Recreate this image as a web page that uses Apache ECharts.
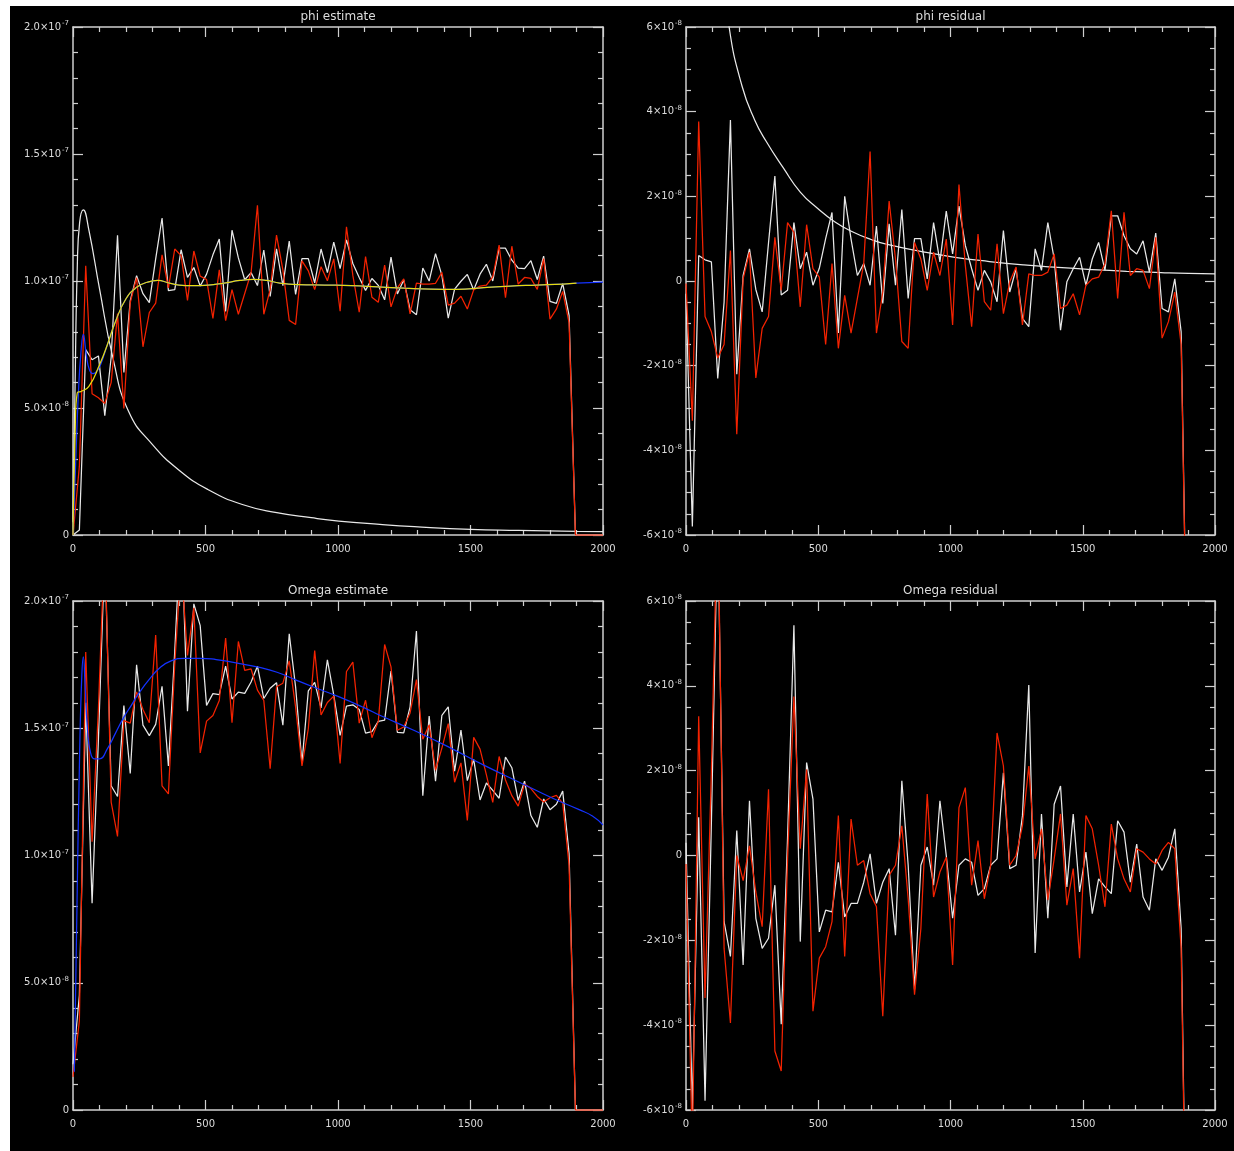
<!DOCTYPE html>
<html>
<head>
<meta charset="utf-8">
<script src="https://cdn.jsdelivr.net/npm/echarts@6/dist/echarts.min.js"></script>
<style>
  html, body { margin: 0; padding: 0; background: #ffffff; }
  #chart { position: absolute; left: 10px; top: 6px; width: 1224px; height: 1145px; background: #000000; }
</style>
</head>
<body>
<div id="chart"></div>
<script>
// Sample positions of the filter outputs (time step)
const steps = [0,24,48,72,96,120,144,168,192,216,240,264,288,312,336,360,384,408,432,456,480,504,528,552,576,600,624,648,672,696,720,744,768,792,816,840,864,888,912,936,960,984,1008,1032,1056,1080,1104,1128,1152,1176,1200,1224,1248,1272,1296,1320,1344,1368,1392,1416,1440,1464,1488,1512,1536,1560,1584,1608,1632,1656,1680,1704,1728,1752,1776,1800,1824,1848,1872,1896,2000];

// All values below are in units of 1e-8
const phiEstRed = [0,2.7,10.6,5.56,5.4,5.18,6.0,8.72,4.98,9.15,10.13,7.41,8.76,9.13,11.03,9.73,11.26,11.0,9.24,11.18,10.19,10.06,8.53,10.44,8.44,9.66,8.69,9.51,10.33,12.98,8.69,9.66,11.81,10.44,8.45,8.29,10.79,10.4,9.66,10.56,10.01,10.87,8.81,12.13,10.22,8.77,10.96,9.36,9.16,10.63,8.98,9.73,10.08,8.71,9.92,9.88,9.88,9.91,10.34,9.05,9.13,9.4,8.9,9.65,9.8,9.84,10.16,11.41,9.34,11.37,9.88,10.14,10.1,9.67,10.88,8.5,8.89,9.59,8.35,0,0];
const phiEstWhite = [0,0.2,7.3,6.9,7.05,4.7,7.0,11.8,6.4,9.23,10.21,9.5,9.15,10.87,12.48,9.62,9.66,11.23,10.14,10.53,9.8,10.27,11.03,11.65,8.8,12.0,10.91,10.05,10.33,9.82,11.22,9.39,11.27,9.82,11.57,9.47,10.88,10.88,9.93,11.26,10.33,11.53,10.49,11.62,10.69,10.14,9.63,10.1,9.83,9.26,10.94,9.49,10.04,8.87,8.67,10.51,10.0,11.08,10.22,8.54,9.68,9.99,10.26,9.65,10.27,10.66,10.0,11.29,11.29,10.82,10.51,10.49,10.8,10.06,10.98,9.2,9.12,9.9,8.65,0,0];
const phiResRed = [-0.06,-3.3,3.77,-0.84,-1.2,-1.82,-1.5,0.72,-3.62,0.05,0.68,-2.29,-1.12,-0.84,1.03,-0.22,1.38,1.15,-0.61,1.33,0.29,0.09,-1.5,0.41,-1.59,-0.34,-1.23,-0.41,0.41,3.06,-1.23,-0.26,1.89,0.52,-1.43,-1.59,0.91,0.52,-0.22,0.68,0.13,0.99,-1.04,2.28,0.37,-1.08,1.11,-0.49,-0.69,0.88,-0.77,-0.02,0.33,-1.04,0.17,0.13,0.13,0.21,0.64,-0.65,-0.57,-0.3,-0.8,-0.1,0.05,0.09,0.41,1.66,-0.41,1.62,0.13,0.29,0.25,-0.18,1.03,-1.35,-0.96,-0.26,-1.5,-9.9,null];
const phiResWhite = [-0.3,-5.8,0.6,0.5,0.45,-2.3,-0.5,3.8,-2.2,0.13,0.76,-0.2,-0.73,0.9,2.48,-0.33,-0.22,1.38,0.29,0.68,-0.1,0.3,1.0,1.62,-1.23,2.0,0.99,0.13,0.41,-0.1,1.3,-0.53,1.35,-0.1,1.69,-0.41,1.0,1.0,0.05,1.38,0.45,1.65,0.64,1.77,0.84,0.29,-0.22,0.25,-0.02,-0.49,1.19,-0.26,0.29,-0.88,-1.08,0.76,0.25,1.38,0.52,-1.16,-0.02,0.29,0.56,-0.1,0.52,0.91,0.25,1.54,1.54,1.07,0.76,0.64,0.95,0.21,1.13,-0.65,-0.73,0.05,-1.2,-9.9,null];
const omegaEstRed = [1.3,3.5,18.0,10.54,15.8,22.5,12.1,10.75,15.3,15.2,16.43,15.74,15.22,18.66,12.74,12.42,17.52,21.45,17.86,19.73,14.03,15.28,15.5,16.09,18.54,15.22,18.41,17.27,17.33,16.5,16.09,13.41,16.63,16.77,17.65,15.83,13.52,14.98,18.05,15.52,16.01,16.26,13.62,17.23,17.6,15.2,16.1,14.63,15.27,18.29,17.41,14.92,15.05,15.6,16.91,14.57,15.13,13.35,14.22,15.18,12.88,13.64,11.38,14.64,14.18,13.17,12.09,13.89,12.97,12.35,11.94,12.81,12.63,12.32,12.1,12.27,12.36,12.06,9.61,0,0];
const omegaEstWhite = [1.8,4.5,16.0,8.12,14.58,22.0,12.74,12.32,15.89,13.22,17.49,15.12,14.71,15.15,16.65,13.52,18.03,23.1,15.67,19.89,19.03,15.9,16.36,16.32,17.44,16.15,16.42,16.37,16.82,17.44,16.17,16.57,16.79,15.12,18.71,16.62,13.64,16.47,16.8,15.8,17.69,16.3,14.72,15.87,15.92,15.74,14.81,14.87,15.27,15.32,17.25,14.84,14.82,15.84,18.82,12.35,15.48,12.92,15.51,15.84,13.31,14.93,12.94,13.78,12.18,12.85,12.56,12.25,13.87,13.45,12.17,12.92,11.57,11.11,12.22,11.8,12.01,12.53,10.08,0,0];
const omegaResRed = [-0.2,-7.0,3.28,-3.36,2.0,8.5,-2.19,-3.95,0.0,-0.59,0.23,-0.86,-1.68,1.56,-4.61,-5.08,-0.08,3.75,0.16,2.03,-3.67,-2.42,-2.15,-1.56,0.94,-2.38,0.86,-0.23,-0.12,-0.9,-1.21,-3.79,-0.47,-0.23,0.7,-1.02,-3.28,-1.72,1.45,-0.98,-0.39,-0.04,-2.58,1.13,1.6,-0.7,0.35,-1.02,-0.23,2.89,2.11,-0.23,0.0,0.7,2.11,-0.08,0.63,-1.05,-0.08,0.98,-1.17,-0.31,-2.42,0.94,0.63,-0.23,-1.21,0.74,-0.08,-0.55,-0.86,0.16,0.08,-0.08,-0.2,0.12,0.31,0.16,-2.19,-11.65,null];
const omegaResWhite = [0.3,-6.0,0.9,-5.78,0.78,8.0,-1.56,-2.38,0.59,-2.58,1.29,-1.48,-2.19,-1.95,-0.7,-3.98,0.43,5.43,-2.03,2.19,1.33,-1.8,-1.29,-1.33,-0.16,-1.45,-1.13,-1.13,-0.63,0.04,-1.13,-0.63,-0.31,-1.88,1.76,-0.23,-3.16,-0.23,0.2,-0.7,1.29,0,-1.48,-0.23,-0.08,-0.16,-0.94,-0.78,-0.23,-0.08,1.95,-0.31,-0.23,0.94,4.02,-2.3,0.98,-1.48,1.21,1.64,-0.74,0.98,-0.86,0.08,-1.37,-0.55,-0.74,-0.9,0.82,0.55,-0.63,0.27,-0.98,-1.29,-0.08,-0.35,-0.04,0.63,-1.72,-11.65,null];

// Smooth reference curves
const phiTrueX = [0,10,20,30,39,50,62,75,90,104,130,160,200,240,280,320,360,400,450,510,570,630,680,730,780,850,950,1050,1150,1250,1350,1450,1550,1650,1750,1850,1900,2000];
const phiTrueY = [0,2.8,5.5,7.2,7.9,7.1,6.5,6.35,6.45,6.7,7.5,8.4,9.3,9.75,9.95,10.02,9.93,9.84,9.82,9.84,9.92,10.02,10.06,10.02,9.92,9.86,9.84,9.82,9.77,9.72,9.68,9.67,9.74,9.8,9.84,9.88,9.92,9.96];
const phiSmoothX = [0,8,16,30,60,100,130,160,200,240,280,320,360,400,450,510,570,630,680,730,780,850,950,1050,1150,1250,1350,1450,1550,1650,1750,1850,1900];
const phiSmoothY = [0,4.0,5.6,5.65,5.85,6.7,7.5,8.4,9.3,9.75,9.95,10.02,9.93,9.84,9.82,9.84,9.92,10.02,10.06,10.02,9.92,9.86,9.84,9.82,9.77,9.72,9.68,9.67,9.74,9.8,9.84,9.88,9.92];
const phiBoundX = [0,8,16,25,39,60,100,150,210,300,405,509,639,769,899,1003,1158,1288,1500,1680,1900,2000];
const phiBoundY = [0.5,6.0,10.5,12.3,12.8,12.0,9.7,7.0,4.86,3.56,2.51,1.79,1.2,0.88,0.68,0.55,0.42,0.33,0.22,0.18,0.14,0.13];
const resBoundX = [130,163,212,260,303,368,432,497,562,627,700,757,887,1017,1147,1277,1406,1536,1666,1796,1900,2000];
const resBoundY = [8.0,6.0,4.6,3.8,3.3,2.67,2.1,1.72,1.4,1.17,0.98,0.87,0.70,0.56,0.46,0.38,0.32,0.27,0.23,0.2,0.18,0.17];
const omegaTrueX = [5,15,25,33,39,46,55,65,80,100,130,160,190,220,250,290,330,370,420,480,540,600,650,700,770,840,900,1000,1100,1160,1290,1420,1550,1680,1810,1910,1960,2000];
const omegaTrueY = [1.5,8,14,17,17.8,16.6,14.9,14.1,13.8,13.8,14.2,14.8,15.4,15.9,16.4,16.95,17.4,17.65,17.75,17.75,17.7,17.6,17.5,17.4,17.2,16.9,16.65,16.25,15.8,15.5,14.9,14.25,13.55,12.9,12.25,11.8,11.55,11.2];

// Tick labels ("mantissa|exponent")
const estTicks = [0, 5, 10, 15, 20];
const estTickLabels = ['0', '5.0×10|-8', '1.0×10|-7', '1.5×10|-7', '2.0×10|-7'];
const resTicks = [-6, -4, -2, 0, 2, 4, 6];
const resTickLabels = ['-6×10|-8', '-4×10|-8', '-2×10|-8', '0', '2×10|-8', '4×10|-8', '6×10|-8'];
const xTicks = [0, 500, 1000, 1500, 2000];
const xTickLabels = ['0', '500', '1000', '1500', '2000'];

const titles = ['phi estimate', 'phi residual', 'Omega estimate', 'Omega residual'];

const AXIS = '#cfcfcf';
const TEXT = '#dcdcdc';
const FONT = '"DejaVu Sans", Verdana, sans-serif';
const RED = '#f42200';
const WHITE = '#e8e8e8';
const BLUE = '#1432ff';
const YELLOW = '#e6dc10';

const grids = [
  { left: 63, top: 21, width: 530, height: 508 },
  { left: 676, top: 21, width: 529, height: 508 },
  { left: 63, top: 595, width: 530, height: 509 },
  { left: 676, top: 595, width: 529, height: 509 }
];

function pairs(xs, ys) { return xs.map((x, i) => [x, ys[i]]); }

function tickStyle() {
  return {
    axisTick: { show: true, inside: true, length: 10, lineStyle: { color: AXIS, width: 1.2 } },
    minorTick: { show: true, length: 5, lineStyle: { color: AXIS, width: 1.2 } },
    splitLine: { show: false },
    minorSplitLine: { show: false }
  };
}

function xAxis(g, position) {
  const t = tickStyle();
  t.minorTick.splitNumber = 5;
  return Object.assign({
    type: 'value', gridIndex: g, position: position, min: 0, max: 2000, interval: 500,
    axisLine: { show: true, onZero: false, lineStyle: { color: AXIS, width: 1.5 } },
    axisLabel: {
      show: position === 'bottom', color: TEXT, fontSize: 10, fontFamily: FONT, margin: 9,
      formatter: v => { const k = xTicks.indexOf(v); return k < 0 ? '' : xTickLabels[k]; }
    }
  }, t);
}

function yAxis(g, position, ticks, labels, min, max, interval, minorSplit) {
  const t = tickStyle();
  t.minorTick.splitNumber = minorSplit;
  return Object.assign({
    type: 'value', gridIndex: g, position: position, min: min, max: max, interval: interval,
    axisLine: { show: true, onZero: false, lineStyle: { color: AXIS, width: 1.5 } },
    axisLabel: {
      show: position === 'left', margin: 4,
      formatter: v => {
        const k = ticks.indexOf(v);
        if (k < 0) return '';
        const parts = labels[k].split('|');
        return parts.length === 1 ? '{b|' + parts[0] + '}' : '{b|' + parts[0] + '}{s|' + parts[1] + '}';
      },
      rich: {
        b: { color: TEXT, fontSize: 10, fontFamily: FONT, lineHeight: 12 },
        s: { color: TEXT, fontSize: 7, fontFamily: FONT, lineHeight: 8, padding: [0, 0, 7, 1] }
      }
    }
  }, t);
}

function line(name, g, data, color, extra) {
  return Object.assign({
    name: name, type: 'line', xAxisIndex: g * 2, yAxisIndex: g * 2, data: data,
    showSymbol: false, symbol: 'none', clip: true, animation: false,
    lineStyle: { color: color, width: 1.25 }
  }, extra || {});
}

const xAxes = [], yAxes = [];
for (let g = 0; g < 4; g++) {
  xAxes.push(xAxis(g, 'bottom'), xAxis(g, 'top'));
  const est = g % 2 === 0;
  const args = est ? [estTicks, estTickLabels, 0, 20, 5, 5] : [resTicks, resTickLabels, -6, 6, 2, 4];
  yAxes.push(yAxis(g, 'left', ...args), yAxis(g, 'right', ...args));
}

const smooth = { smooth: 0.5 };

const series = [
  // phi estimate
  line('phi bound', 0, pairs(phiBoundX, phiBoundY), WHITE, smooth),
  line('phi estimate (white)', 0, pairs(steps, phiEstWhite), WHITE),
  line('phi estimate (red)', 0, pairs(steps, phiEstRed), RED),
  line('phi true', 0, pairs(phiTrueX, phiTrueY), BLUE, smooth),
  line('phi smoothed', 0, pairs(phiSmoothX, phiSmoothY), YELLOW, smooth),
  // phi residual
  line('phi residual bound', 1, pairs(resBoundX, resBoundY), WHITE, smooth),
  line('phi residual (white)', 1, pairs(steps, phiResWhite), WHITE),
  line('phi residual (red)', 1, pairs(steps, phiResRed), RED),
  // Omega estimate
  line('Omega estimate (white)', 2, pairs(steps, omegaEstWhite), WHITE),
  line('Omega estimate (red)', 2, pairs(steps, omegaEstRed), RED),
  line('Omega true', 2, pairs(omegaTrueX, omegaTrueY), BLUE, smooth),
  // Omega residual
  line('Omega residual (white)', 3, pairs(steps, omegaResWhite), WHITE),
  line('Omega residual (red)', 3, pairs(steps, omegaResRed), RED)
];

const titleGraphics = titles.map((t, g) => ({
  type: 'text',
  x: grids[g].left + grids[g].width / 2,
  y: grids[g].top - 10,
  style: { text: t, fill: TEXT, font: '12px ' + FONT, textAlign: 'center', textVerticalAlign: 'middle' }
}));

const chart = echarts.init(document.getElementById('chart'), null, { renderer: 'canvas' });
chart.setOption({
  backgroundColor: '#000000',
  animation: false,
  grid: grids,
  xAxis: xAxes,
  yAxis: yAxes,
  series: series,
  graphic: titleGraphics
});
</script>
</body>
</html>
